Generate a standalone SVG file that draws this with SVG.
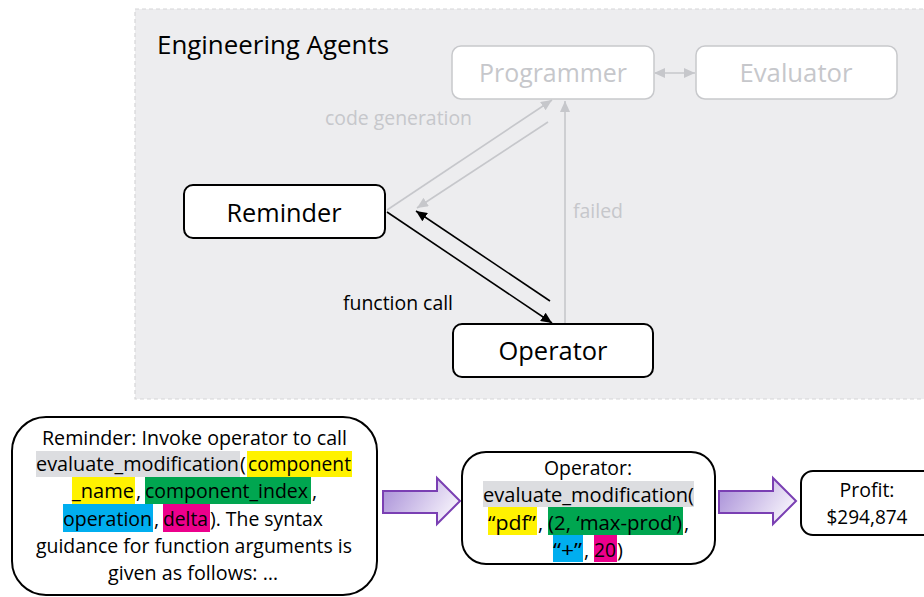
<svg xmlns="http://www.w3.org/2000/svg" width="924" height="597" viewBox="0 0 924 597">
<style>
text{font-family:"Open Sans","Noto Sans","Liberation Sans",sans-serif;fill:#000}
.lbl{font-size:26px;text-anchor:middle}
.sm{font-size:20px}
.bt{font-size:20px}
.mid{text-anchor:middle}
.gt{fill:#c6c7cb}
.nodeB{fill:#fff;stroke:#000;stroke-width:2}
.nodeG{fill:#fff;stroke:#c8c9cc;stroke-width:1.5}
.cg{stroke:#c6c7cb;stroke-width:1.6;fill:none}
.cb{stroke:#000;stroke-width:1.6;fill:none}
.parrow{fill:url(#pg);stroke:#7a3fb3;stroke-width:2}
</style>
<defs>
<marker id="ab" markerUnits="userSpaceOnUse" markerWidth="12" markerHeight="10" refX="11" refY="5" orient="auto"><path d="M0,0 L11,5 L0,10 z" fill="#000"/></marker>
<marker id="ag" markerUnits="userSpaceOnUse" markerWidth="12" markerHeight="10" refX="11" refY="5" orient="auto"><path d="M0,0 L11,5 L0,10 z" fill="#c6c7cb"/></marker>
<marker id="agS" markerUnits="userSpaceOnUse" markerWidth="12" markerHeight="10" refX="1" refY="5" orient="auto"><path d="M11,0 L0,5 L11,10 z" fill="#c6c7cb"/></marker>
<linearGradient id="pg" x1="0" y1="0" x2="1" y2="0.4">
<stop offset="0" stop-color="#a58bd6"/>
<stop offset="1" stop-color="#f1ecf9"/>
</linearGradient>
</defs>

<g id="panel">
<rect x="135" y="9" width="800" height="390" fill="#ededef" stroke="#d6d6d8" stroke-width="1.2" stroke-dasharray="4 3"/>
<text x="157" y="54" font-size="26" textLength="232" lengthAdjust="spacingAndGlyphs">Engineering Agents</text>
</g>

<g id="connectors">
<path class="cg" d="M655,73 L695,73" marker-start="url(#agS)" marker-end="url(#ag)"/>
<path class="cg" d="M387,210 L552,100" marker-end="url(#ag)"/>
<path class="cg" d="M548,122 L417,208" marker-end="url(#ag)"/>
<path class="cg" d="M565,323 L565,101" marker-end="url(#ag)"/>
<path class="cb" d="M387,212 L552,323" marker-end="url(#ab)"/>
<path class="cb" d="M550,301 L416,211" marker-end="url(#ab)"/>
<text class="sm gt" x="325" y="125" textLength="147" lengthAdjust="spacingAndGlyphs">code generation</text>
<text class="sm gt" x="573" y="218" textLength="50" lengthAdjust="spacingAndGlyphs">failed</text>
<text class="sm" x="343" y="310" textLength="110" lengthAdjust="spacingAndGlyphs">function call</text>
</g>

<g id="programmer">
<rect class="nodeG" x="452" y="46" width="202" height="53" rx="9"/>
<text class="lbl gt" x="553" y="82" textLength="148" lengthAdjust="spacingAndGlyphs">Programmer</text>
</g>
<g id="evaluator">
<rect class="nodeG" x="696" y="46" width="201" height="53" rx="9"/>
<text class="lbl gt" x="796" y="82" textLength="113" lengthAdjust="spacingAndGlyphs">Evaluator</text>
</g>
<g id="reminder">
<rect class="nodeB" x="184" y="185" width="201" height="53" rx="9"/>
<text class="lbl" x="284" y="222" textLength="115" lengthAdjust="spacingAndGlyphs">Reminder</text>
</g>
<g id="operator">
<rect class="nodeB" x="453" y="324" width="200" height="53" rx="9"/>
<text class="lbl" x="553" y="360" textLength="109" lengthAdjust="spacingAndGlyphs">Operator</text>
</g>

<g id="reminder-note">
<rect class="nodeB" x="12" y="417" width="365" height="178" rx="34"/>
<rect x="36" y="451" width="204" height="26" fill="#dcdde0"/>
<rect x="247" y="451" width="105" height="26" fill="#fff200"/>
<rect x="72" y="477" width="63" height="27" fill="#fff200"/>
<rect x="145" y="477" width="166" height="27" fill="#00a650"/>
<rect x="63" y="504" width="90" height="28" fill="#00aeef"/>
<rect x="163" y="504" width="47" height="28" fill="#ec008c"/>
<text class="bt" x="42" y="445" textLength="305" lengthAdjust="spacingAndGlyphs">Reminder: Invoke operator to call</text>
<text class="bt" x="36" y="471" textLength="203" lengthAdjust="spacingAndGlyphs">evaluate_modification</text>
<text class="bt" x="240" y="471">(</text>
<text class="bt" x="248" y="471" textLength="103" lengthAdjust="spacingAndGlyphs">component</text>
<text class="bt" x="72" y="498" textLength="62" lengthAdjust="spacingAndGlyphs">_name</text>
<text class="bt" x="136" y="498">,</text>
<text class="bt" x="145" y="498" textLength="163" lengthAdjust="spacingAndGlyphs">component_index</text>
<text class="bt" x="312" y="498">,</text>
<text class="bt" x="63" y="526" textLength="89" lengthAdjust="spacingAndGlyphs">operation</text>
<text class="bt" x="154" y="526">,</text>
<text class="bt" x="163" y="526" textLength="45" lengthAdjust="spacingAndGlyphs">delta</text>
<text class="bt" x="210" y="526" textLength="113" lengthAdjust="spacingAndGlyphs">). The syntax</text>
<text class="bt" x="36" y="553" textLength="316" lengthAdjust="spacingAndGlyphs">guidance for function arguments is</text>
<text class="bt" x="108" y="580" textLength="170" lengthAdjust="spacingAndGlyphs">given as follows: …</text>
</g>

<g id="arrow1">
<path class="parrow" d="M383,491 L437,491 L437,478 L460,501 L437,524 L437,513 L383,513 z"/>
</g>

<g id="operator-note">
<rect class="nodeB" x="462" y="452" width="253" height="112" rx="24"/>
<rect x="483" y="481" width="211" height="26" fill="#dcdde0"/>
<rect x="488" y="507" width="49" height="28" fill="#fff200"/>
<rect x="548" y="507" width="135" height="28" fill="#00a650"/>
<rect x="553" y="535" width="30" height="27" fill="#00aeef"/>
<rect x="594" y="535" width="23" height="27" fill="#ec008c"/>
<text class="bt" x="544" y="475" textLength="88" lengthAdjust="spacingAndGlyphs">Operator:</text>
<text class="bt" x="483" y="502" textLength="211" lengthAdjust="spacingAndGlyphs">evaluate_modification(</text>
<text class="bt" x="488" y="530" textLength="48" lengthAdjust="spacingAndGlyphs">“pdf”</text>
<text class="bt" x="538" y="530">,</text>
<text class="bt" x="548" y="530" textLength="134" lengthAdjust="spacingAndGlyphs">(2, ‘max-prod’)</text>
<text class="bt" x="684" y="530">,</text>
<text class="bt" x="553" y="557" textLength="29" lengthAdjust="spacingAndGlyphs">“+”</text>
<text class="bt" x="584" y="557">,</text>
<text class="bt" x="594" y="557" textLength="22" lengthAdjust="spacingAndGlyphs">20</text>
<text class="bt" x="617" y="557">)</text>
</g>

<g id="arrow2">
<path class="parrow" d="M719,491 L773,491 L773,478 L796,501 L773,524 L773,513 L719,513 z"/>
</g>

<g id="profit">
<rect class="nodeB" x="801" y="471" width="140" height="64" rx="12"/>
<text class="bt mid" x="867" y="497" textLength="55" lengthAdjust="spacingAndGlyphs">Profit:</text>
<text class="bt mid" x="867" y="524" textLength="81" lengthAdjust="spacingAndGlyphs">$294,874</text>
</g>
</svg>
